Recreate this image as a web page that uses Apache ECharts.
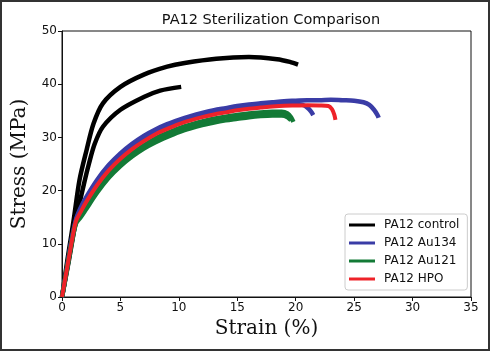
<!DOCTYPE html>
<html>
<head>
<meta charset="utf-8">
<script src="https://cdn.jsdelivr.net/npm/echarts@6/dist/echarts.min.js"></script>
<style>
  html, body { margin: 0; padding: 0; background: #fff; }
  #main { width: 490px; height: 351px; }
</style>
</head>
<body>
<div id="main"></div>
<script>
// strain (%), stress (MPa)
const controlLong = [[0,0],[0.5,7.5],[1,14.5],[1.5,22],[2.1,27.6],[2.7,32.6],[3.5,36.4],[5,39.5],[7,41.8],[9,43.3],[10.5,44],[13.2,44.8],[16,45.1],[18.4,44.7],[19.5,44.2],[20.2,43.7]];
const controlShort = [[0,0],[0.6,7],[1.2,14.5],[1.8,20.5],[2.3,25],[2.8,28.8],[3.5,32],[5,35.2],[7,37.6],[8.4,38.8],[10.2,39.5]];
const au134Long = [[0,0],[0.4,5.2],[0.8,10.5],[1.2,14.6],[1.6,16.8],[2,18.5],[3,22],[4,24.8],[5,27],[6,28.8],[7,30.3],[8,31.5],[9,32.5],[10,33.3],[11,34],[12,34.6],[13,35.1],[14,35.5],[15,35.9],[16,36.2],[17,36.4],[18,36.6],[19,36.8],[20,36.9],[21,37],[22,37],[23,37.1],[24,37],[25,36.9],[25.8,36.6],[26.3,36.1],[26.7,35.2],[27,34.2],[27.1,33.7]];
const au134Short = [[0,0],[0.4,5],[0.8,10.3],[1.2,14.4],[1.6,16.5],[2,18.2],[3,21.6],[4,24.4],[5,26.6],[6,28.4],[7,29.9],[8,31.1],[9,32.1],[10,32.9],[11,33.6],[12,34.2],[13,34.7],[14,35.1],[15,35.5],[16,35.8],[17,36],[18,36.2],[19,36.3],[20,36.3],[20.6,36.1],[21,35.6],[21.3,34.9],[21.5,34.2]];
const au121A = [[0,0],[0.4,5],[0.8,10],[1.2,14],[1.6,15.4],[2,16.8],[3,20.2],[4,23],[5,25.2],[6,27],[7,28.5],[8,29.8],[9,30.8],[10,31.7],[11,32.4],[12,33],[13,33.5],[14,33.9],[15,34.2],[16,34.5],[17,34.7],[18,34.8],[18.8,34.8],[19.3,34.5],[19.6,33.8],[19.8,32.9]];
const au121B = [[0,0],[0.4,4.8],[0.8,9.8],[1.2,13.8],[1.6,15],[2,16.3],[3,19.6],[4,22.4],[5,24.6],[6,26.4],[7,27.9],[8,29.1],[9,30.1],[10,31],[11,31.7],[12,32.3],[13,32.8],[14,33.2],[15,33.5],[16,33.8],[17,34],[18,34.1],[18.8,34.1],[19.3,33.8],[19.6,33.2]];
const hpo = [[0,0],[0.4,5],[0.8,10],[1.2,14.3],[1.6,16],[2,17.6],[3,21],[4,23.8],[5,26],[6,27.8],[7,29.3],[8,30.6],[9,31.6],[10,32.5],[11,33.2],[12,33.8],[13,34.3],[14,34.7],[15,35.1],[16,35.4],[17,35.6],[18,35.8],[19,35.95],[20,36],[21,36.05],[22,36],[22.8,35.9],[23.1,35.3],[23.3,34.3],[23.4,33.3]];

const groups = ['PA12 control', 'PA12 Au134', 'PA12 Au121', 'PA12 HPO'];
const colors = ['#000000', '#3a3ca6', '#137a36', '#ee2229'];

function curve(name, color, data, width) {
    return {
        name: name,
        type: 'line',
        data: data,
        symbol: 'none',
        smooth: 0.3,
        lineStyle: { color: color, width: width },
        itemStyle: { color: color },
        emphasis: { disabled: true }
    };
}

let myChart = echarts.init(document.getElementById('main'));
myChart.setOption({
    backgroundColor: '#fff',
    animation: false,
    title: {
        text: 'PA12 Sterilization Comparison',
        left: 266, top: 8, textAlign: 'center',
        textStyle: { fontFamily: 'DejaVu Sans', fontSize: 14.5, fontWeight: 'normal', color: '#111' }
    },
    grid: { left: 62, right: 19, top: 31, bottom: 54, show: true, borderColor: '#111', borderWidth: 1 },
    legend: {
        data: groups,
        orient: 'vertical',
        left: 345, top: 214,
        icon: 'rect',
        itemWidth: 26, itemHeight: 3, itemGap: 6,
        padding: [5, 8, 5, 4],
        borderColor: '#ccc', borderWidth: 1, borderRadius: 3,
        backgroundColor: '#fff',
        textStyle: { fontFamily: 'DejaVu Sans', fontSize: 12, color: '#111', padding: [0, 0, 0, 4] }
    },
    xAxis: {
        type: 'value', min: 0, max: 35, interval: 5,
        name: 'Strain (%)', nameLocation: 'middle', nameGap: 22,
        nameTextStyle: { fontFamily: 'DejaVu Serif', fontSize: 20, color: '#111' },
        axisLine: { onZero: false, lineStyle: { color: '#111' } },
        axisTick: { length: 4, lineStyle: { color: '#111' } },
        axisLabel: { fontFamily: 'DejaVu Sans', fontSize: 12, color: '#111', margin: 5 },
        splitLine: { show: false }
    },
    yAxis: {
        type: 'value', min: 0, max: 50, interval: 10,
        name: 'Stress (MPa)', nameLocation: 'middle', nameGap: 32,
        nameTextStyle: { fontFamily: 'DejaVu Serif', fontSize: 20, color: '#111' },
        axisLine: { show: true, onZero: false, lineStyle: { color: '#111' } },
        axisTick: { show: true, length: 4, lineStyle: { color: '#111' } },
        axisLabel: { fontFamily: 'DejaVu Sans', fontSize: 12, color: '#111', margin: 5 },
        splitLine: { show: false }
    },
    graphic: [{
        type: 'rect', silent: true,
        shape: { x: 1, y: 1, width: 488, height: 349 },
        style: { fill: null, stroke: '#333', lineWidth: 2 }
    }],
    series: [
        curve(groups[0], colors[0], controlLong, 4.5),
        curve(groups[0], colors[0], controlShort, 4.5),
        curve(groups[1], colors[1], au134Long, 4.5),
        curve(groups[1], colors[1], au134Short, 4.5),
        curve(groups[2], colors[2], au121A, 4.5),
        curve(groups[2], colors[2], au121B, 4.5),
        curve(groups[3], colors[3], hpo, 4)
    ]
});
</script>
</body>
</html>
